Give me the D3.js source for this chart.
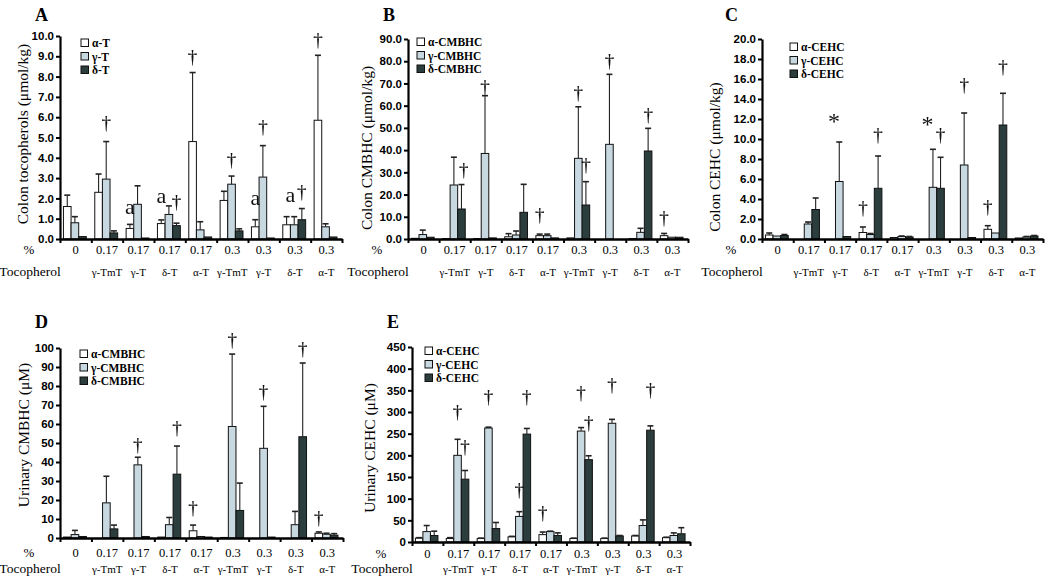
<!DOCTYPE html>
<html><head><meta charset="utf-8">
<script src="https://cdn.jsdelivr.net/npm/d3@7/dist/d3.min.js"></script>
<style>body{margin:0;background:#fff}svg{display:block}</style>
</head><body>
<script>
// ---- shared categories ----
const groupLabels = ["0","0.17","0.17","0.17","0.17","0.3","0.3","0.3","0.3"];
const subLabels   = ["","γ-TmT","γ-T","δ-T","α-T","γ-TmT","γ-T","δ-T","α-T"];

// ---- Panel A: colon tocopherols ----
const seriesA = ["α-T","γ-T","δ-T"];
const aMeans = [
  [1.6, 2.3, 0.52, 0.76, 4.8, 1.9, 0.6, 0.7, 5.85],
  [0.8, 2.95, 1.71, 1.21, 0.45, 2.7, 3.05, 0.7, 0.6],
  [0.12, 0.3, 0.05, 0.66, 0.1, 0.4, 0.05, 0.95, 0.1]
];
const aTops = [
  [2.16, 3.2, 0.72, 0.94, 8.2, 2.35, 0.95, 1.1, 9.05],
  [1.1, 4.8, 2.62, 1.63, 0.85, 3.1, 4.6, 1.1, 0.75],
  [0.12, 0.4, 0.05, 0.78, 0.1, 0.5, 0.05, 1.5, 0.1]
];
// [group, series position, value at baseline, symbol]
const aMarks = [[1,1,5.45,"†"],[2,0,1.25,"a"],[3,0,1.77,"a"],[3,2,1.6,"†"],[4,0,8.7,"†"],
  [5,1,3.65,"†"],[6,0,1.67,"a"],[6,1,5.27,"†"],[7,0.5,1.82,"a"],[7,2,2.07,"†"],[8,0,9.55,"†"]];

// ---- Panel B: colon CMBHC ----
const seriesB = ["α-CMBHC","γ-CMBHC","δ-CMBHC"];
const bMeans = [
  [0.3, 0.2, 0.2, 1.0, 1.5, 0.5, 0, 0.2, 1.5],
  [2.0, 24.3, 38.5, 1.8, 1.5, 36.3, 42.6, 3.0, 0.8],
  [0.8, 13.5, 0.5, 12.0, 0.5, 15.3, 0, 39.6, 0.8]
];
const bTops = [
  [0.3, 0.2, 0.2, 2.4, 2.2, 0.5, 0, 0.2, 2.5],
  [4.0, 36.8, 64.5, 3.6, 2.2, 59.5, 74.1, 4.8, 0.8],
  [0.8, 24.5, 0.5, 24.6, 0.5, 25.8, 0, 49.8, 0.8]
];
const bMarks = [[1,2.3,28.8,"†"],[2,1,66,"†"],[4,0,8.5,"†"],[5,1,63.5,"†"],[5,2,31,"†"],
  [6,1,78,"†"],[7,2,53.5,"†"],[8,0,7.2,"†"]];

// ---- Panel C: colon CEHC ----
const seriesC = ["α-CEHC","γ-CEHC","δ-CEHC"];
const cMeans = [
  [0.4, 0, 0, 0.65, 0.15, 0, 0, 0.97, 0.1],
  [0.3, 1.5, 5.75, 0.45, 0.25, 5.17, 7.4, 0.6, 0.2],
  [0.35, 2.95, 0.25, 5.07, 0.2, 5.07, 0.15, 11.4, 0.3]
];
const cTops = [
  [0.6, 0, 0, 1.2, 0.15, 0, 0, 1.33, 0.1],
  [0.3, 1.7, 9.7, 0.55, 0.3, 8.97, 12.6, 0.6, 0.25],
  [0.45, 4.1, 0.25, 8.3, 0.25, 8.17, 0.15, 14.57, 0.35]
];
const cMarks = [[2,0.3,11.0,"*"],[3,0,2.6,"†"],[3,2,9.9,"†"],[5,0.3,10.7,"*"],[5,2,9.9,"†"],
  [6,1,14.9,"†"],[7,0,2.7,"†"],[7,2,16.7,"†"]];

// ---- Panel D: urinary CMBHC ----
const seriesD = ["α-CMBHC","γ-CMBHC","δ-CMBHC"];
const dMeans = [
  [0.5, 0, 0, 0.5, 3.8, 0.3, 0, 0, 2.5],
  [1.8, 18.5, 38.5, 7.0, 0.8, 58.7, 47.2, 7.0, 2.0],
  [0.8, 4.8, 0.8, 33.6, 0.5, 14.5, 0.5, 53.3, 1.5]
];
const dTops = [
  [0.5, 0, 0, 0.5, 6.8, 0.3, 0, 0, 3.2],
  [4.0, 32.5, 42.5, 10.8, 0.8, 96.8, 69.3, 14.0, 2.5],
  [0.8, 6.8, 0.8, 48.4, 0.5, 28.9, 0.5, 92.1, 2.3]
];
const dMarks = [[2,1,46.5,"†"],[3,2,55.4,"†"],[4,0,13.3,"†"],[5,1,101.5,"†"],[6,1,74.4,"†"],
  [7,2,97,"†"],[8,0,8,"†"]];

// ---- Panel E: urinary CEHC ----
const seriesE = ["α-CEHC","γ-CEHC","δ-CEHC"];
const eMeans = [
  [9, 8, 8, 12, 17, 8, 8, 14, 10],
  [24, 200, 263, 59, 24, 256, 274, 38, 15],
  [15, 145, 31, 249, 15, 190, 14, 258, 19]
];
const eTops = [
  [10, 10, 9, 13, 23, 9, 9, 15, 11],
  [38, 237, 265, 70, 25, 264, 283, 51, 21],
  [25, 165, 45, 262, 21, 199, 15, 268, 33]
];
const eMarks = [[1,1,289,"†"],[1,2,208,"†"],[2,1,323,"†"],[3,1,108,"†"],[3,2,323,"†"],
  [4,0,55,"†"],[5,1,333,"†"],[5,2,263,"†"],[6,1,351,"†"],[7,2,340,"†"]];

// ---- layout ----
const fills = ["#ffffff","#c8d8e1","#2b3d3c"];
const serif = "'Liberation Serif','Times New Roman',serif";
const sans = "'Liberation Sans',Arial,sans-serif";

const panels = [
 {letter:"A", lx:35, ly:21, x0:60, x1:342, yTop:36, yBase:239, max:10, step:1, fmt:".1f",
  title:"Colon tocopherols (μmol/kg)", tx:22, ty:134, series:seriesA, means:aMeans, tops:aTops, marks:aMarks,
  legX:81, legY:43, r1:254, r2:276},
 {letter:"B", lx:383, ly:21, x0:408, x1:688, yTop:39, yBase:239, max:90, step:10, fmt:".1f",
  title:"Colon CMBHC (μmol/kg)", tx:366, ty:148, series:seriesB, means:bMeans, tops:bTops, marks:bMarks,
  legX:417, legY:42, r1:254, r2:276},
 {letter:"C", lx:725, ly:21, x0:762, x1:1043, yTop:39, yBase:239, max:20, step:2, fmt:".1f",
  title:"Colon CEHC (μmol/kg)", tx:714, ty:157, series:seriesC, means:cMeans, tops:cTops, marks:cMarks,
  legX:790, legY:47, r1:254, r2:276},
 {letter:"D", lx:35, ly:328, x0:60, x1:343, yTop:348, yBase:538, max:100, step:10, fmt:"d",
  title:"Urinary CMBHC (μM)", tx:23, ty:435, series:seriesD, means:dMeans, tops:dTops, marks:dMarks,
  legX:80, legY:354, r1:557, r2:573},
 {letter:"E", lx:387, ly:328, x0:412, x1:690, yTop:347, yBase:542, max:450, step:50, fmt:"d",
  title:"Urinary CEHC (μM)", tx:369, ty:448, series:seriesE, means:eMeans, tops:eTops, marks:eMarks,
  legX:425, legY:351, r1:558, r2:573}
];

const svg = d3.select("body").append("svg").attr("width",1050).attr("height",581);
// grayscale filter for marker glyphs (avoid coloured sub-pixel fringes)
svg.append("defs").append("filter").attr("id","gray")
  .attr("x","-20%").attr("y","-20%").attr("width","140%").attr("height","140%")
  .append("feColorMatrix").attr("type","saturate").attr("values","0");

panels.forEach(p => {
  const g = svg.append("g");
  const n = groupLabels.length;
  const xb = d3.scaleBand().domain(d3.range(n)).range([p.x0, p.x1]).paddingInner(0).paddingOuter(0);
  const bw = xb.bandwidth();
  const xi = d3.scaleBand().domain([0,1,2]).range([bw*0.11, bw*0.84]);
  const sw = xi.bandwidth();
  const y = d3.scaleLinear().domain([0, p.max]).range([p.yBase, p.yTop]);
  const xLin = d3.scaleLinear().domain([0, n]).range([p.x0, p.x1]);
  const sx = (gi, s) => xb(gi) + xi.range()[0] + (s + 0.5) * sw;

  // bars
  p.series.forEach((name, s) => {
    g.append("g").selectAll("rect").data(p.means[s]).join("rect")
      .attr("x", (d,i) => xb(i) + xi(s))
      .attr("y", d => y(d))
      .attr("width", sw)
      .attr("height", d => p.yBase - y(d))
      .attr("fill", fills[s]).attr("stroke", "#111").attr("stroke-width", 1);
    // error bars
    const eg = g.append("g").attr("stroke","#222").attr("stroke-width",1.1);
    p.tops[s].forEach((t, i) => {
      const m = p.means[s][i];
      if (t <= m) return;
      const cx = sx(i, s);
      eg.append("line").attr("x1",cx).attr("x2",cx).attr("y1",y(m)).attr("y2",y(t));
      eg.append("line").attr("x1",cx-3).attr("x2",cx+3).attr("y1",y(t)).attr("y2",y(t)).attr("stroke-width",1.6);
    });
  });

  // y axis
  const yAxis = d3.axisLeft(y).tickValues(d3.range(0, p.max + p.step/2, p.step))
     .tickFormat(d3.format(p.fmt)).tickSizeInner(4).tickSizeOuter(0).tickPadding(2);
  const ya = g.append("g").attr("transform",`translate(${p.x0},0)`).call(yAxis);
  ya.select(".domain").attr("stroke","#000").attr("stroke-width",2.2);
  ya.selectAll(".tick line").attr("stroke","#000").attr("stroke-width",2);
  ya.selectAll(".tick text").attr("font-family",sans).attr("font-weight","bold").attr("font-size",11.5).attr("fill","#000");

  // x axis
  const xAxis = d3.axisBottom(xLin).tickValues(d3.range(n+1)).tickFormat("").tickSizeInner(4).tickSizeOuter(0);
  const xa = g.append("g").attr("transform",`translate(0,${p.yBase})`).call(xAxis);
  xa.select(".domain").attr("stroke","#000").attr("stroke-width",2.4);
  xa.selectAll(".tick line").attr("stroke","#000").attr("stroke-width",2);

  // group labels
  g.append("g").selectAll("text").data(groupLabels).join("text")
    .attr("x",(d,i)=>xb(i)+bw/2).attr("y",p.r1).attr("text-anchor","middle")
    .attr("font-family",serif).attr("font-size",12.5).text(d=>d);
  g.append("g").selectAll("text").data(subLabels).join("text")
    .attr("x",(d,i)=>xb(i)+bw/2).attr("y",p.r2).attr("text-anchor","middle")
    .attr("font-family",serif).attr("font-size",11).text(d=>d);
  g.append("text").attr("x",p.x0-31).attr("y",p.r1).attr("text-anchor","middle")
    .attr("font-family",serif).attr("font-size",13).text("%");
  g.append("text").attr("x",p.x0-30).attr("y",p.r2).attr("text-anchor","middle")
    .attr("font-family",serif).attr("font-size",13.5).text("Tocopherol");

  // y title
  g.append("text").attr("transform",`translate(${p.tx},${p.ty}) rotate(-90)`)
    .attr("text-anchor","middle").attr("dominant-baseline","central")
    .attr("font-family",serif).attr("font-size",15.5).text(p.title);

  // panel letter
  g.append("text").attr("x",p.lx).attr("y",p.ly).attr("font-family",serif)
    .attr("font-weight","bold").attr("font-size",18).text(p.letter);

  // legend
  p.series.forEach((name, s) => {
    const yy = p.legY + s*13.5;
    g.append("rect").attr("x",p.legX).attr("y",yy-4).attr("width",7.5).attr("height",7.5)
      .attr("fill",fills[s]).attr("stroke","#111").attr("stroke-width",1);
    g.append("text").attr("x",p.legX+11).attr("y",yy).attr("dominant-baseline","central")
      .attr("font-family",serif).attr("font-weight","bold").attr("font-size",11.5).text(name);
  });

  // significance markers
  const mg = g.append("g").attr("filter","url(#gray)");
  p.marks.forEach(([gi, s, v, sym]) => {
    const isDag = sym === "†";
    const fs = isDag ? 19 : (sym === "a" ? 22 : 24);
    const t = mg.append("text").attr("x", sx(gi, s)).attr("y", y(v) + (isDag ? 1 : 0))
      .attr("text-anchor","middle").attr("font-family",serif).attr("font-size",fs)
      .attr("fill","#111").text(sym);
    if (isDag) t.attr("stroke","#111").attr("stroke-width",0.15);
  });
});
</script>
</body></html>
